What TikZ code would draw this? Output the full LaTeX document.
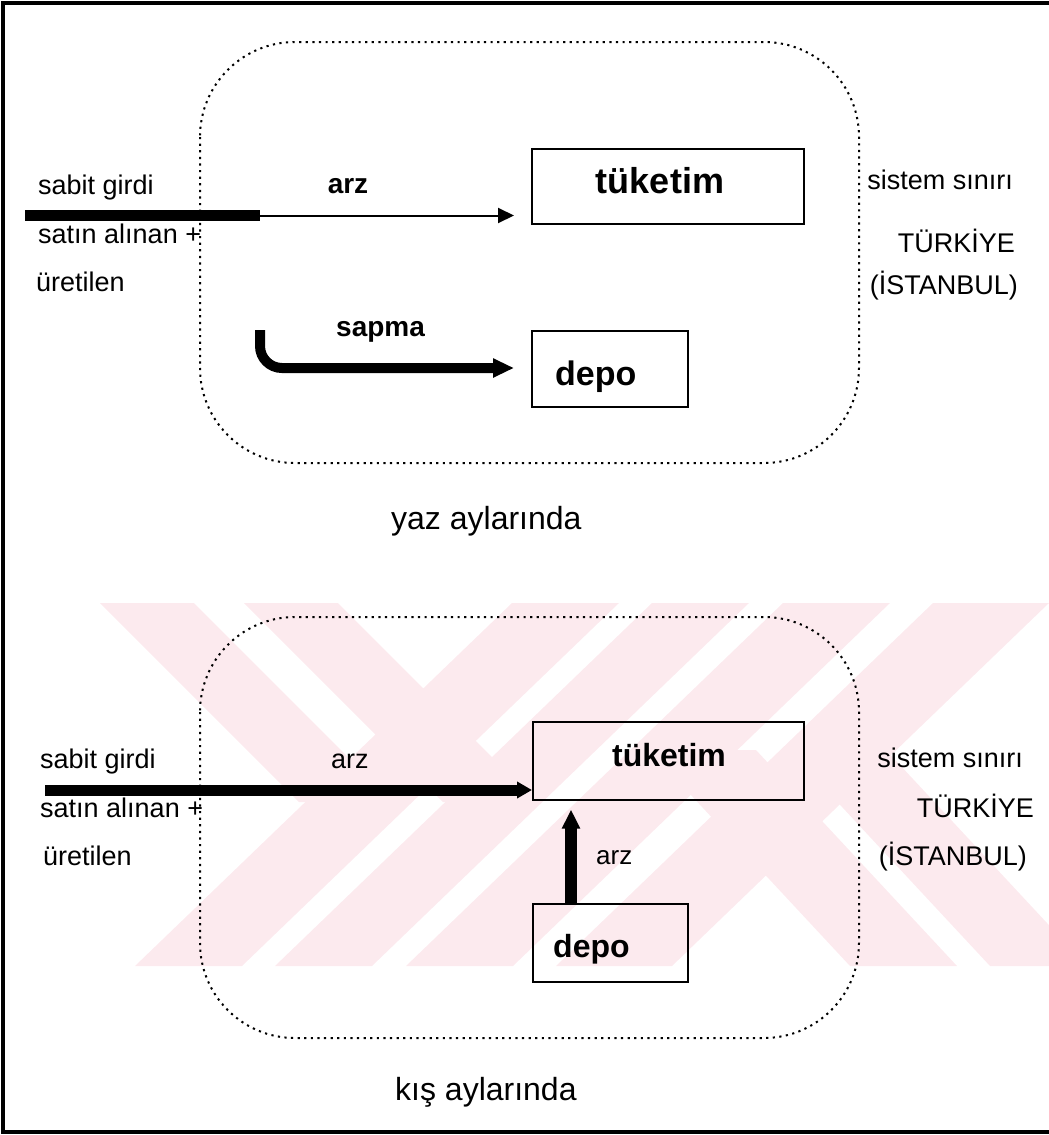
\documentclass[tikz,border=0pt]{standalone}
\usepackage{fontspec}
\setmainfont{Liberation Sans}
\usetikzlibrary{arrows.meta}
\definecolor{wm}{RGB}{252,234,238}
\tikzset{
  lbl/.style={inner sep=0pt, anchor=base west, font=\fontsize{27}{30}\selectfont},
  lble/.style={lbl, anchor=base east},
  blbl/.style={inner sep=0pt, anchor=base west, font=\fontsize{28}{30}\selectfont\bfseries},
  boxlbl/.style={inner sep=0pt, font=\fontsize{34}{36}\selectfont\bfseries},
  boxlblb/.style={inner sep=0pt, font=\fontsize{32}{36}\selectfont\bfseries},
  captext/.style={inner sep=0pt, anchor=base west, font=\fontsize{32}{36}\selectfont},
  boxst/.style={draw, line width=1.5pt, inner sep=0pt, anchor=north west},
  boundary/.style={line width=2pt, dash pattern=on 2.2pt off 4.4pt, rounded corners=95pt},
  thinarrow/.style={line width=2pt, -{Triangle[length=16pt,width=15pt]}},
  thickarrow/.style={line width=10pt, -{Triangle[length=21pt,width=18pt]}},
}
\begin{document}
\begin{tikzpicture}[x=1pt,y=-1pt]
\useasboundingbox (0,0) rectangle (1049,1135);
% watermark
\begin{scope}
  \clip (6,603) rectangle (1049,966);
  % "/" stripes, full height
  \foreach \a/\b in {512/619,652/749,783/890,933/1049}
    \fill[wm] (\a,603) -- (\b,603) -- (\b-377,966) -- (\a-377,966) -- cycle;
  % upper-left "\" stripes, merging into the "/" stripes
  \foreach \a/\b in {100/194,244/338}
    \fill[wm] (\a,603) -- (\b,603) -- (\b+199,802) -- (\a+199,802) -- cycle;
  % lower-right "\" stripes
  \foreach \a/\b in {649/756,789/886}
    \fill[wm] (\a,750) -- (\b,750) -- (\b+201,966) -- (\a+201,966) -- cycle;
\end{scope}
% frame
\draw[line width=4pt] (1049,3) -- (3,3) -- (3,1132) -- (1049,1132);

% ---------- summer ----------
\draw[boundary] (200,42) rectangle (859,463);
\node[boxst, minimum width=272pt, minimum height=75pt] (tukA) at (531,148) {};
\node[boxst, minimum width=156pt, minimum height=76pt] (depA) at (531,330) {};
\node[boxlbl, anchor=base, font=\fontsize{36}{38}\selectfont\bfseries] (tukAt) at (660,193) {tüketim};
\node[boxlbl, anchor=base west] (depAt) at (555,385) {depo};
\node[lbl] (sgA) at (38,194) {sabit girdi};
\node[lbl] (saA) at (38,243) {satın alınan +};
\node[lbl] (urA) at (36,291) {üretilen};
\node[blbl, anchor=base] (arzA) at (348,193) {arz};
\node[blbl] (sapA) at (336,336) {sapma};
\node[lble] (ssA) at (1013,189) {sistem sınırı};
\node[lble] (trA) at (1015,252) {TÜRKİYE};
\node[lble] (isA) at (1018,294) {(İSTANBUL)};
\node[captext] (yaz) at (391,529) {yaz aylarında};
\coordinate (inA) at (25,215.5);
\coordinate (jA) at (260,215.5);
\draw[line width=11pt] (inA) -- (jA);
\draw[thinarrow, shorten >=17pt] (jA) -- (jA -| tukA.west);
\coordinate (s0) at (260,330);
\coordinate (s1) at (514,368);
\draw[thickarrow, rounded corners=22pt] (s0) |- (s1);

% ---------- winter ----------
\draw[boundary] (200,617) rectangle (859,1038);
\node[boxst, minimum width=271pt, minimum height=78pt] (tukB) at (532,721) {};
\node[boxst, minimum width=155pt, minimum height=78pt] (depB) at (532,903) {};
\node[boxlblb, anchor=base] (tukBt) at (669,766) {tüketim};
\node[boxlblb, anchor=base west] (depBt) at (553,957) {depo};
\node[lbl] (sgB) at (40,768) {sabit girdi};
\node[lbl] (saB) at (40,817) {satın alınan +};
\node[lbl] (urB) at (43,865) {üretilen};
\node[lbl] (arzB) at (331,768) {arz};
\node[lbl, font=\fontsize{26}{30}\selectfont] (arzC) at (596,864) {arz};
\node[lble] (ssB) at (1023,767) {sistem sınırı};
\node[lble] (trB) at (1034,817) {TÜRKİYE};
\node[lble] (isB) at (1027,865) {(İSTANBUL)};
\node[captext] (kis) at (395,1100) {kış aylarında};
\coordinate (inB) at (45,790);
\draw[line width=11pt, -{Triangle[length=15pt,width=16pt]}] (inB) -- (inB -| tukB.west);
\coordinate (v0) at (571,903);
\draw[line width=12pt, -{Triangle[length=19pt,width=17pt]}, shorten >=9pt] (v0) -- (v0 |- tukB.south);
\end{tikzpicture}
\end{document}
